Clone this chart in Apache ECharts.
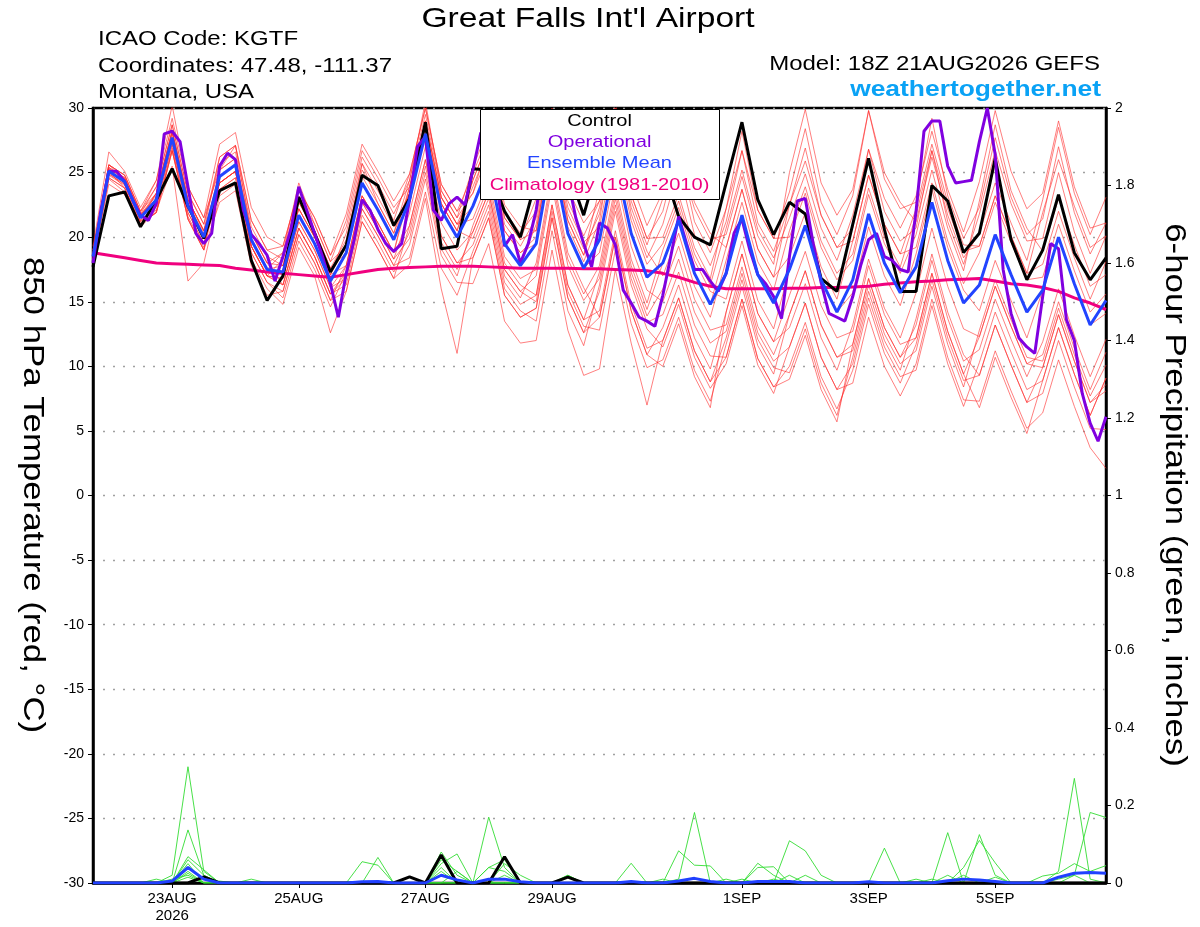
<!DOCTYPE html>
<html>
<head>
<meta charset="utf-8">
<script src="https://cdn.jsdelivr.net/npm/echarts@6/dist/echarts.min.js"></script>
<style>html,body{margin:0;padding:0;background:#fff}#c{width:1200px;height:927px}</style>
</head>
<body>
<div id="c"></div>
<script>
// ---- x axis ticks (forecast hours from 18Z 21AUG2026) ----
const xTickHours = [30, 78, 126, 174, 246, 294, 342];
const xTickLabels = ['23AUG\n2026', '25AUG', '27AUG', '29AUG', '1SEP', '3SEP', '5SEP'];

// ---- 6-hourly 850 hPa temperature (°C) ----
const control = [17.7,23.2,23.5,20.8,22.9,25.3,22.4,19.9,23.6,24.2,18.2,15.1,17.0,23.1,20.3,17.3,19.4,24.8,24.0,20.9,23.0,28.9,19.1,19.3,25.3,25.2,22.0,20.0,24.5,27.0,25.3,21.7,26.0,28.0,27.0,26.0,25.5,21.6,20.0,19.4,24.2,28.9,22.9,20.2,22.7,21.8,16.8,15.8,21.0,26.1,20.6,15.8,15.8,24.0,22.8,18.8,20.3,26.1,19.8,16.7,19.0,23.3,18.8,16.7,18.4];
const ensMean = [18.5,25.1,24.3,21.5,22.9,27.7,22.4,20.0,24.7,25.6,19.8,17.5,17.3,21.7,19.5,16.6,18.8,24.2,22.1,19.8,22.9,28.0,22.1,20.0,22.4,25.5,19.5,17.8,19.5,26.5,20.3,17.6,19.8,26.0,20.3,16.9,18.0,21.3,17.2,14.8,17.2,21.7,17.1,14.9,17.5,20.9,16.7,14.2,16.7,21.8,18.0,15.7,17.7,22.7,18.2,14.9,16.3,20.2,17.1,14.2,15.9,20.0,16.4,13.2,15.1];
const climatology = [18.8,18.6,18.4,18.2,18.0,17.95,17.9,17.85,17.8,17.6,17.45,17.3,17.2,17.1,17.0,16.9,17.1,17.3,17.5,17.6,17.65,17.7,17.75,17.75,17.75,17.7,17.65,17.6,17.6,17.6,17.6,17.55,17.55,17.5,17.45,17.4,17.2,16.9,16.5,16.2,16.0,16.0,16.0,16.0,16.05,16.05,16.1,16.1,16.15,16.2,16.35,16.45,16.55,16.6,16.7,16.75,16.8,16.6,16.4,16.3,16.1,15.8,15.3,14.9,14.4];
// operational run is 3-hourly
const operational = [18.0,22.1,25.1,25.1,24.3,22.9,21.7,21.3,22.6,28.0,
28.2,27.4,23.9,20.3,19.5,20.3,25.5,26.5,26.0,22.1,
20.2,19.5,18.6,16.6,18.5,20.6,23.9,22.1,20.3,18.5,
16.4,13.8,17.2,19.8,22.9,22.1,20.6,19.5,18.9,19.5,
22.9,27.0,27.8,22.1,21.3,22.6,23.1,22.5,25.2,28.1,
27.0,24.5,19.3,20.2,18.0,19.5,22.1,26.0,27.5,27.0,
24.5,21.5,19.5,17.7,21.1,20.7,19.4,15.9,14.9,13.8,
13.5,13.1,15.5,18.5,21.6,19.5,17.5,17.5,16.6,15.8,
17.2,20.3,21.4,19.0,17.1,16.4,15.4,13.7,18.5,22.8,
23.0,19.5,16.5,14.1,13.8,13.5,15.4,17.8,19.8,20.3,
18.5,18.2,17.5,17.3,22.0,28.2,29.0,29.0,25.5,24.2,
24.3,24.4,27.4,30.0,26.4,17.5,14.1,12.2,11.5,11.0,
15.4,19.5,19.1,13.6,12.0,7.9,5.6,4.2,6.1];

// ---- ensemble members (6-hourly) ----
const m01 = [19.0,25.6,24.8,22.0,23.9,28.7,23.4,21.0,25.7,26.6,20.8,18.5,17.8,22.2,20.0,17.1,20.3,25.7,23.6,21.3,24.9,30.0,24.1,22.0,24.9,28.0,22.0,20.3,22.0,29.0,22.8,20.1,22.8,30.5,23.3,19.9,22.0,26.8,21.2,18.8,22.2,28.2,22.1,19.9,23.5,28.4,22.7,20.2,23.2,29.8,24.5,22.2,22.7,29.2,23.2,19.9,22.3,27.7,23.1,20.2,21.4,27.0,21.9,18.7,21.1];
const m02 = [18.2,24.8,24.0,21.2,22.4,27.2,21.9,19.5,23.7,24.6,18.8,16.5,15.8,20.2,18.0,15.1,17.8,23.2,21.1,18.8,20.9,26.0,20.1,18.0,19.4,22.5,16.5,14.8,15.5,22.5,16.3,13.6,14.3,20.5,14.8,11.4,12.0,15.3,11.2,8.8,10.7,15.2,10.6,8.4,10.0,13.4,9.2,6.7,9.7,14.8,11.0,8.7,11.7,16.7,12.2,8.9,9.3,13.2,10.1,7.2,7.9,12.0,8.4,5.2,5.1];
const m03 = [18.7,25.3,24.5,21.7,23.2,28.0,22.7,20.3,24.2,25.1,19.3,17.0,18.3,22.7,20.5,17.6,18.8,24.2,22.1,19.8,23.9,29.0,23.1,21.0,22.4,25.5,19.5,17.8,21.0,28.0,21.8,19.1,21.8,28.0,22.3,18.9,17.0,20.3,16.2,13.8,18.2,22.7,18.1,15.9,20.5,23.9,19.7,17.2,18.7,23.8,20.0,17.7,21.7,26.7,22.2,18.9,19.3,23.2,20.1,17.2,17.9,22.0,18.4,15.2,18.1];
const m04 = [18.0,24.6,23.8,21.0,21.9,26.7,21.4,19.0,25.2,26.1,20.3,18.0,16.3,20.7,18.5,15.6,17.3,22.7,20.6,18.3,21.9,27.0,21.1,19.0,20.4,23.5,17.5,15.8,17.0,24.0,17.8,15.1,16.8,23.0,17.3,13.9,16.0,19.3,15.2,12.8,13.2,17.7,13.1,10.9,14.0,17.4,13.2,10.7,11.7,16.8,13.0,10.7,13.2,18.2,13.7,10.4,11.3,15.2,12.1,9.2,11.9,16.0,12.4,9.2,12.1];
const m05 = [19.3,26.6,25.1,22.3,24.4,30.2,23.9,21.5,25.2,27.1,20.3,18.0,18.8,24.2,21.0,18.1,19.3,25.7,22.6,20.3,24.4,30.5,23.6,21.5,23.4,27.5,20.5,18.8,20.0,28.0,20.8,18.1,21.3,28.5,21.8,18.4,21.0,25.3,20.2,17.8,21.2,26.7,21.1,18.9,22.5,26.9,21.7,19.2,20.7,26.8,22.0,19.7,20.7,26.7,21.2,17.9,21.8,26.7,22.6,19.7,19.9,25.0,20.4,17.2,20.1];
const m06 = [18.3,24.5,23.5,20.8,22.0,25.5,16.6,18.0,23.2,24.1,18.3,16.0,14.8,19.2,17.0,12.6,15.8,21.2,19.1,16.8,17.9,23.0,16.0,11.0,18.4,21.5,15.5,13.8,14.5,21.5,15.3,12.6,13.8,20.0,14.3,10.9,13.0,16.3,12.2,9.8,14.2,18.7,14.1,11.9,15.5,18.9,14.7,12.2,12.7,17.8,14.0,11.7,12.2,17.2,12.7,9.4,12.3,16.2,13.1,10.2,9.9,14.0,10.4,7.2,8.1];
const m07 = [18.8,25.4,24.6,21.8,22.9,27.7,22.4,20.0,25.2,26.1,20.3,18.0,17.8,22.2,20.0,17.1,17.8,23.2,21.1,18.8,23.9,29.0,23.1,21.0,21.4,24.5,18.5,16.8,17.5,24.5,18.3,15.6,17.8,24.0,18.3,14.9,19.0,22.3,18.2,15.8,15.2,19.7,15.1,12.9,17.5,20.9,16.7,14.2,15.7,20.8,17.0,14.7,18.7,23.7,19.2,15.9,14.3,18.2,15.1,12.2,15.9,20.0,16.4,13.2,14.1];
const m08 = [19.0,25.6,24.8,22.0,24.4,29.2,23.9,21.5,27.2,28.1,22.3,20.0,19.3,23.7,21.5,18.6,21.8,27.2,25.1,22.8,24.9,30.0,24.1,22.0,23.4,26.5,20.5,18.8,19.5,26.5,20.3,17.6,18.8,25.0,19.3,15.9,15.0,18.3,14.2,11.8,12.7,17.2,12.6,10.4,11.5,14.9,10.7,8.2,10.2,15.3,11.5,9.2,9.7,14.7,10.2,6.9,10.3,14.2,11.1,8.2,8.9,13.0,9.4,6.2,9.1];
const m09 = [18.3,24.9,24.1,21.3,22.1,26.9,21.6,19.2,23.7,24.6,18.8,16.5,15.3,19.7,17.5,14.6,17.3,22.7,20.6,18.3,19.9,25.0,19.1,17.0,20.9,24.0,18.0,16.3,15.5,22.5,16.3,13.6,17.3,23.5,17.8,14.4,18.0,21.3,17.2,14.8,19.2,23.7,19.1,16.9,18.5,21.9,17.7,15.2,19.7,24.8,21.0,18.7,22.2,27.2,22.7,19.4,19.3,23.2,20.1,17.2,21.9,26.0,22.4,19.2,20.1];
const m10 = [18.5,25.1,24.3,21.5,23.4,28.2,22.9,20.5,24.2,25.1,19.3,17.0,16.3,20.7,18.5,15.6,16.3,21.7,19.6,17.3,19.4,24.5,18.6,16.5,16.4,19.5,13.5,11.8,12.0,19.0,12.8,9.3,9.8,17.5,11.8,7.0,12.0,15.3,11.2,8.8,12.2,16.7,12.1,9.9,9.5,12.9,8.7,6.2,10.7,15.8,12.0,9.7,13.7,18.7,14.2,10.9,9.3,13.2,10.1,7.2,9.9,14.0,10.4,7.2,8.6];
const m11 = [18.7,25.6,24.5,21.7,23.4,28.2,22.9,20.5,26.2,27.1,21.3,19.0,18.3,22.7,20.5,17.6,19.8,25.2,23.1,20.8,23.4,28.5,22.6,20.5,24.4,27.5,21.5,19.8,20.5,27.5,21.3,18.6,22.3,28.5,22.8,19.4,23.0,26.3,22.2,19.8,20.2,24.7,20.1,17.9,25.0,29.9,24.2,21.7,23.7,29.8,25.0,22.7,21.2,26.2,21.7,18.4,20.3,24.2,21.1,18.2,22.9,28.5,23.4,20.2,23.1];
const m12 = [18.0,24.6,23.8,21.0,21.9,26.7,21.4,19.0,22.7,23.6,17.8,15.5,15.8,20.2,18.0,15.1,15.8,21.2,19.1,16.8,20.9,26.0,20.1,18.0,18.4,21.5,15.5,13.8,14.5,21.5,15.3,12.6,15.8,22.0,16.3,12.9,11.5,14.8,10.7,8.3,10.2,14.7,10.1,7.9,11.5,14.9,10.7,8.2,8.7,13.8,10.0,7.7,10.2,15.2,10.7,7.4,7.3,11.2,8.1,5.2,6.4,10.5,6.9,3.7,2.1];
const m13 = [18.2,24.1,23.3,21.2,21.9,26.7,21.4,19.0,24.7,25.6,19.8,17.5,17.8,22.2,20.0,17.1,19.3,24.7,22.6,20.3,23.4,28.5,22.6,20.5,24.4,27.5,21.5,19.8,23.0,30.0,23.8,21.1,22.8,29.0,23.3,19.9,20.0,23.3,19.2,16.8,22.2,26.7,22.1,19.9,20.0,23.4,19.2,16.7,18.2,23.3,19.5,17.2,20.2,25.2,20.7,17.4,22.8,28.7,23.6,20.7,18.9,23.0,19.4,16.2,17.1];
const m14 = [18.7,25.3,24.5,21.7,22.9,27.7,22.4,20.0,24.2,25.1,19.3,17.0,16.8,21.2,19.0,16.1,16.8,22.2,20.1,17.8,18.4,23.5,17.6,15.5,18.9,22.0,16.0,14.3,13.5,20.5,14.3,11.6,16.3,22.5,16.8,13.4,14.0,17.3,13.2,10.8,10.7,15.2,10.6,8.4,9.0,12.4,8.2,5.7,11.7,16.8,13.0,10.7,12.2,17.2,12.7,9.4,6.8,10.7,7.6,4.8,8.9,13.0,9.4,6.2,9.1];
const m15 = [19.0,25.6,24.8,22.0,23.4,28.2,22.9,20.5,24.7,25.6,19.8,17.5,18.8,23.2,21.0,18.1,21.3,26.7,24.6,22.3,23.9,29.0,23.1,21.0,23.9,27.0,21.0,19.3,21.5,28.5,22.3,19.6,20.8,27.0,21.3,17.9,19.5,22.8,18.7,16.3,20.7,25.2,20.6,18.4,21.5,24.9,20.7,18.2,21.7,26.8,23.0,20.7,23.2,28.2,23.7,20.4,24.3,29.8,25.1,22.2,23.4,29.0,23.9,20.7,21.1];
const m16 = [18.3,24.9,24.1,21.3,23.4,28.2,22.9,20.5,24.2,25.1,19.3,17.0,16.8,21.2,19.0,16.1,17.8,23.2,21.1,18.8,23.4,28.5,22.6,20.5,19.9,23.0,17.0,15.3,18.0,25.0,18.8,16.1,13.8,20.0,14.3,10.9,10.0,13.3,9.2,6.8,14.2,18.7,14.1,11.9,13.0,16.4,12.2,9.7,13.2,18.3,14.5,12.2,15.7,20.7,16.2,12.9,12.3,16.2,13.1,10.2,10.9,15.0,11.4,8.2,11.1];
const m17 = [18.8,25.4,24.6,21.8,23.9,28.7,23.4,21.0,26.2,27.1,21.3,19.0,19.3,23.7,21.5,18.6,20.8,26.2,24.1,21.8,24.4,29.5,23.6,21.5,25.4,28.5,22.5,20.8,20.5,27.5,21.3,18.6,23.8,30.0,24.3,20.9,23.5,26.8,22.7,20.3,19.2,23.7,19.1,16.9,22.5,25.9,21.7,19.2,19.7,24.8,21.0,18.7,19.2,24.2,19.7,16.4,18.8,22.7,19.6,16.7,16.9,21.0,17.4,14.2,15.6];
const m18 = [18.5,25.1,23.8,21.0,22.4,27.2,21.9,19.5,24.2,25.1,19.3,17.0,16.3,20.7,18.5,15.6,16.8,22.2,20.1,17.8,20.4,25.5,19.6,17.5,20.4,23.5,17.5,15.8,15.0,22.0,15.8,13.1,12.8,19.0,13.3,9.9,10.5,13.8,9.7,7.3,11.7,16.2,11.6,9.4,14.0,17.4,13.2,10.7,11.2,16.3,12.5,10.2,11.2,16.2,11.7,8.4,12.8,16.7,13.6,10.7,10.4,14.5,10.9,7.7,10.1];
const members = [m01,m02,m03,m04,m05,m06,m07,m08,m09,m10,m11,m12,m13,m14,m15,m16,m17,m18];

// ---- 6-hour precipitation (inches) ----
const precipControl = [0,0,0,0,0,0,0,0.016,0,0, 0,0,0,0,0,0,0,0,0,0, 0.016,0,0.072,0,0,0,0.068,0,0,0, 0.015,0,0,0,0,0,0,0,0,0, 0,0,0,0,0,0,0,0,0,0, 0,0,0,0,0,0,0,0,0,0, 0,0,0,0,0];
const precipMean = [0,0,0,0,0,0.005,0.04,0.01,0,0, 0,0,0,0,0,0,0,0.003,0.004,0, 0,0,0.02,0.008,0,0.01,0.01,0.003,0,0, 0,0,0,0,0.004,0,0,0.005,0.012,0.004, 0,0,0.004,0.004,0.004,0,0,0,0,0.003, 0,0,0,0,0.006,0.01,0.008,0.004,0,0, 0,0.015,0.025,0.027,0.025];
const p01 = [0,0,0,0,0,0.02,0.30,0.03,0,0, 0,0,0,0,0,0,0,0,0,0, 0,0,0.08,0.02,0,0.17,0.04,0,0,0, 0,0,0,0,0,0,0,0,0,0, 0,0,0,0,0,0,0,0,0,0, 0,0,0,0,0,0,0,0,0,0, 0,0.03,0.27,0.01,0];
const p02 = [0,0,0,0,0,0,0.137,0.02,0,0, 0,0,0,0,0,0,0,0.055,0.046,0, 0,0,0,0,0,0,0,0,0,0, 0,0,0,0,0,0,0,0.083,0.046,0.044, 0,0,0,0,0.109,0.083,0.02,0,0,0, 0,0,0,0,0,0,0,0,0,0, 0,0,0,0,0];
const p03 = [0,0,0,0,0,0,0.068,0.034,0,0, 0,0,0,0,0,0,0,0,0.066,0, 0,0,0.05,0.075,0,0,0,0,0,0, 0,0,0,0,0,0,0,0.01,0.182,0, 0,0,0,0,0,0,0,0,0,0, 0,0,0,0,0.13,0,0,0,0,0, 0,0,0.02,0.182,0.169];
const p04 = [0,0,0,0,0.01,0,0.06,0.02,0,0, 0,0,0,0,0,0,0,0,0,0, 0,0,0.04,0,0,0,0.05,0.02,0,0, 0,0,0,0,0.051,0,0,0,0,0, 0,0,0.051,0.02,0,0,0,0,0,0, 0.09,0,0,0,0,0,0.125,0.02,0,0, 0,0,0,0,0];
const p05 = [0,0,0,0,0,0,0.05,0,0,0, 0.01,0,0,0,0,0,0,0,0,0, 0,0,0.03,0,0,0.04,0.03,0,0,0, 0.02,0,0,0,0,0,0,0,0,0, 0,0,0.04,0.042,0,0,0,0,0,0, 0,0,0,0,0,0.04,0.11,0.052,0,0, 0,0,0,0,0];
const p06 = [0,0,0,0,0,0,0.04,0.01,0,0, 0,0,0,0,0,0,0,0,0,0, 0,0,0,0,0,0,0.02,0,0,0, 0,0,0,0,0,0,0.01,0,0,0, 0.01,0,0,0,0,0,0,0,0,0, 0,0,0,0.01,0,0.02,0,0,0,0, 0.018,0.025,0.05,0.03,0.045];
const p07 = [0,0,0,0,0,0,0.03,0,0.005,0, 0,0,0,0,0,0,0,0,0,0, 0,0,0,0,0,0,0,0,0,0, 0.02,0,0,0,0,0,0,0,0,0, 0,0.01,0,0,0.02,0,0,0,0,0, 0,0,0.01,0,0.02,0,0,0,0,0, 0,0.01,0.02,0,0];
const p08 = [0,0,0,0,0,0.01,0.02,0,0,0, 0,0,0,0,0,0,0,0,0,0, 0,0,0,0.03,0,0,0,0,0,0, 0,0,0,0,0,0,0,0,0,0, 0,0,0,0,0,0,0,0,0,0, 0,0,0,0,0,0,0,0.015,0,0, 0,0,0,0,0];
const p09 = [0,0,0,0,0,0,0.025,0,0,0, 0,0,0,0,0,0,0,0,0,0, 0,0,0.06,0.03,0,0.04,0.06,0,0,0, 0,0,0,0,0,0,0,0,0,0, 0,0,0,0,0,0,0,0,0,0, 0,0,0,0,0,0,0,0,0,0, 0,0,0,0,0];
const p10 = [0,0,0,0,0,0,0.015,0,0,0, 0,0,0,0,0,0,0,0,0,0, 0,0,0,0,0,0,0,0,0,0, 0,0,0,0,0,0,0,0,0,0, 0,0,0,0.01,0,0.02,0,0,0,0, 0,0,0,0,0,0,0,0,0,0, 0,0,0,0,0];
const precipMembers = [p01,p02,p03,p04,p05,p06,p07,p08,p09,p10];

// ---- build ----
const FONT = "'Liberation Sans', Arial, Helvetica, sans-serif";
const pairs = (arr, stepHours) => arr.map((v, i) => [i * stepHours, v]);
const line = (data, color, width, yIdx, extra) => Object.assign({
  type: 'line', data, yAxisIndex: yIdx, symbol: 'none', showSymbol: false,
  silent: true, animation: false, lineStyle: { color, width }
}, extra || {});

const series = [];
members.forEach(m => series.push(line(pairs(m, 6), 'rgba(255,45,45,0.68)', 0.9, 0)));
precipMembers.forEach(p => series.push(line(pairs(p, 6), '#33dd33', 0.9, 1)));
series.push(line(pairs(precipControl, 6), '#000000', 3, 1));
series.push(line(pairs(precipMean, 6), '#2040ff', 3, 1));
series.push(line(pairs(climatology, 6), '#f0007f', 3, 0));
series.push(line(pairs(control, 6), '#000000', 3, 0));
series.push(line(pairs(operational, 3), '#8000e0', 3, 0));
series.push(line(pairs(ensMean, 6), '#2244ff', 3, 0));

const txt = (text, x, y, opts) => Object.assign({
  type: 'text', x, y, z: 100, scaleX: 1.2, silent: true,
  style: Object.assign({ text, fill: '#000', font: '20px ' + FONT, textAlign: 'left', textVerticalAlign: 'middle', align: 'left', verticalAlign: 'middle' }, opts.style || {})
}, opts.el || {});

const graphics = [
  txt("Great Falls Int'l Airport", 588, 19, { style: { font: '28px ' + FONT, textAlign: 'center', align: 'center' } }),
  txt('ICAO Code: KGTF', 98, 39, {}),
  txt('Coordinates: 47.48, -111.37', 98, 66, {}),
  txt('Montana, USA', 98, 92, {}),
  txt('Model: 18Z 21AUG2026 GEFS', 1100, 64, { style: { textAlign: 'right', align: 'right' } }),
  txt('weathertogether.net', 1101, 90, { style: { font: 'bold 22px ' + FONT, fill: '#0aa2f5', textAlign: 'right', align: 'right' } }),
  txt('850 hPa Temperature (red, °C)', 32, 495, { style: { font: '29px ' + FONT, textAlign: 'center', align: 'center' }, el: { rotation: -Math.PI / 2 } }),
  txt('6-hour Precipitation (green, inches)', 1174, 495, { style: { font: '29px ' + FONT, textAlign: 'center', align: 'center' }, el: { rotation: -Math.PI / 2 } }),
  { type: 'rect', z: 99, silent: true, shape: { x: 480.5, y: 109.5, width: 239, height: 90 }, style: { fill: '#fff', stroke: '#000', lineWidth: 1 } },
  txt('Control', 599.5, 121, { style: { font: '17px ' + FONT, textAlign: 'center', align: 'center' }, el: { scaleX: 1.18 } }),
  txt('Operational', 599.5, 142, { style: { font: '17px ' + FONT, fill: '#8000e0', textAlign: 'center', align: 'center' }, el: { scaleX: 1.18 } }),
  txt('Ensemble Mean', 599.5, 163.5, { style: { font: '17px ' + FONT, fill: '#2244ff', textAlign: 'center', align: 'center' }, el: { scaleX: 1.18 } }),
  txt('Climatology (1981-2010)', 599.5, 185, { style: { font: '17px ' + FONT, fill: '#f0007f', textAlign: 'center', align: 'center' }, el: { scaleX: 1.18 } })
];

const chart = echarts.init(document.getElementById('c'), null, { renderer: 'canvas' });
chart.setOption({
  animation: false,
  backgroundColor: '#ffffff',
  grid: { left: 93, right: 94, top: 108, bottom: 44, show: true, borderColor: '#000', borderWidth: 2.5, backgroundColor: 'transparent' },
  xAxis: {
    type: 'value', min: 0, max: 384,
    axisLine: { show: true, onZero: false, lineStyle: { color: '#000', width: 2.5 } },
    axisTick: { show: true, customValues: xTickHours, length: 5, lineStyle: { color: '#000', width: 1 } },
    axisLabel: {
      show: true, customValues: xTickHours, margin: 7, color: '#000', fontSize: 15, lineHeight: 17, fontFamily: FONT,
      formatter: v => { const k = xTickHours.indexOf(Math.round(v)); return k >= 0 ? xTickLabels[k] : ''; }
    },
    splitLine: { show: false }
  },
  yAxis: [
    {
      type: 'value', min: -30, max: 30, interval: 5, position: 'left',
      axisLine: { show: true, onZero: false, lineStyle: { color: '#000', width: 2.5 } },
      axisTick: { show: true, length: 5, lineStyle: { color: '#000', width: 1 } },
      axisLabel: { color: '#000', fontSize: 14, fontFamily: FONT, margin: 9 },
      splitLine: { show: true, lineStyle: { color: '#a0a0a0', type: [2, 8], width: 1.3 } }
    },
    {
      type: 'value', min: 0, max: 2, interval: 0.2, position: 'right',
      axisLine: { show: true, onZero: false, lineStyle: { color: '#000', width: 2.5 } },
      axisTick: { show: true, length: 5, lineStyle: { color: '#000', width: 1 } },
      axisLabel: { color: '#000', fontSize: 14, fontFamily: FONT, margin: 9, formatter: v => String(+v.toFixed(1)) },
      splitLine: { show: false }
    }
  ],
  graphic: { elements: graphics },
  series
});
</script>
</body>
</html>
